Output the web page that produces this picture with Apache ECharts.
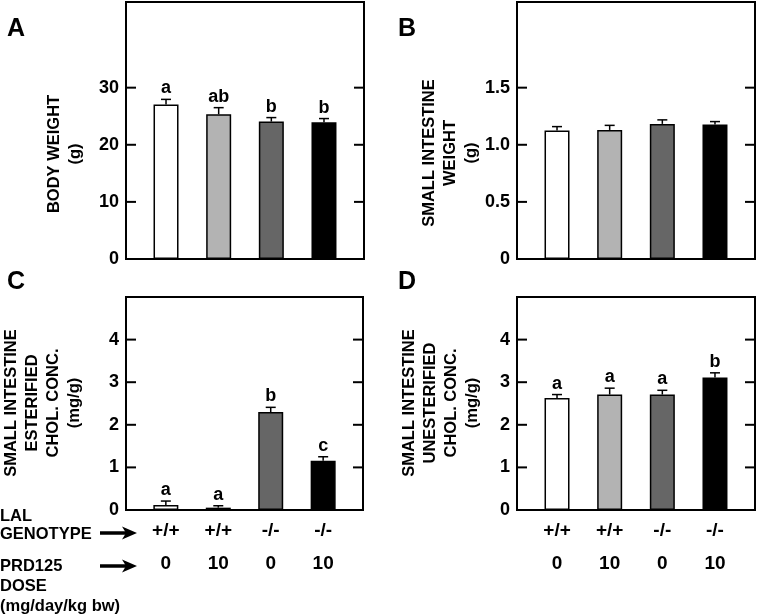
<!DOCTYPE html>
<html>
<head>
<meta charset="utf-8">
<script src="https://cdn.jsdelivr.net/npm/echarts@6/dist/echarts.min.js"></script>
<style>
  html, body { margin: 0; padding: 0; background: #fff; }
  #chart { width: 758px; height: 616px; }
</style>
</head>
<body>
<div id="chart"></div>
<script>
// groups (x positions 1..4)
const genotype = ['+/+', '+/+', '-/-', '-/-'];
const dose = ['0', '10', '0', '10'];
const barColors = ['#ffffff', '#b3b3b3', '#666666', '#000000'];

// panel A - body weight (g)
const bodyWeight = [27.05, 25.35, 24.06, 23.94];
const bodyWeightSem = [0.9, 1.15, 0.7, 0.65];
const bodyWeightLetters = ['a', 'ab', 'b', 'b'];
const bodyWeightTicks = [0, 10, 20, 30];

// panel B - small intestine weight (g)
const siWeight = [1.124, 1.13, 1.183, 1.177];
const siWeightSem = [0.035, 0.04, 0.035, 0.026];
const siWeightLetters = ['', '', '', ''];
const siWeightTicks = [0, 0.5, 1.0, 1.5];

// panel C - esterified cholesterol (mg/g)
const esterified = [0.12, 0.055, 2.30, 1.155];
const esterifiedSem = [0.09, 0.045, 0.11, 0.095];
const esterifiedLetters = ['a', 'a', 'b', 'c'];

// panel D - unesterified cholesterol (mg/g)
const unesterified = [2.63, 2.71, 2.71, 3.11];
const unesterifiedSem = [0.08, 0.15, 0.10, 0.11];
const unesterifiedLetters = ['a', 'a', 'a', 'b'];
const cholTicks = [0, 1, 2, 3, 4];

const FONT = '"Liberation Sans", Arial, sans-serif';
const X_MIN = 0.24, X_MAX = 4.76;

const panels = [
  { values: bodyWeight, sem: bodyWeightSem, letters: bodyWeightLetters, ticks: bodyWeightTicks, max: 45,
    grid: { left: 126, top: 2, width: 238, height: 257 }, fmt: v => String(v), xLabels: false },
  { values: siWeight, sem: siWeightSem, letters: siWeightLetters, ticks: siWeightTicks, max: 2.25,
    grid: { left: 517, top: 2, width: 238, height: 257 }, fmt: v => v === 0 ? '0' : v.toFixed(1), xLabels: false },
  { values: esterified, sem: esterifiedSem, letters: esterifiedLetters, ticks: cholTicks, max: 5,
    grid: { left: 126, top: 297, width: 237, height: 213 }, fmt: v => String(v), xLabels: true },
  { values: unesterified, sem: unesterifiedSem, letters: unesterifiedLetters, ticks: cholTicks, max: 5,
    grid: { left: 517, top: 297, width: 238, height: 213 }, fmt: v => String(v), xLabels: true }
];

const grids = [], xAxes = [], yAxes = [], series = [];

panels.forEach((p, i) => {
  grids.push(Object.assign({ show: true, borderColor: '#000', borderWidth: 2, backgroundColor: 'transparent' }, p.grid));

  xAxes.push({
    type: 'value', gridIndex: i, min: X_MIN, max: X_MAX,
    axisLine: { show: false }, axisTick: { show: false }, splitLine: { show: false },
    axisLabel: p.xLabels ? {
      show: true, customValues: [1, 2, 3, 4], margin: 4,
      formatter: v => genotype[v - 1] + '\n' + dose[v - 1],
      fontFamily: FONT, fontWeight: 'bold', fontSize: 19, color: '#000', lineHeight: 33
    } : { show: false }
  });

  yAxes.push({
    type: 'value', gridIndex: i, min: 0, max: p.max,
    axisLine: { show: false }, splitLine: { show: false }, axisTick: { show: false },
    axisLabel: {
      show: true, customValues: p.ticks, formatter: p.fmt, margin: 7,
      fontFamily: FONT, fontWeight: 'bold', fontSize: 18, color: '#000'
    }
  });

  // inward tick marks on the left and right frame edges
  const inner = p.ticks.filter(t => t > 0);
  series.push({
    type: 'scatter', xAxisIndex: i, yAxisIndex: i, z: 10, silent: true,
    symbol: 'rect', symbolSize: [10, 2], symbolOffset: [5, 0],
    itemStyle: { color: '#000', opacity: 1 },
    data: inner.map(t => [X_MIN, t])
  });
  series.push({
    type: 'scatter', xAxisIndex: i, yAxisIndex: i, z: 10, silent: true,
    symbol: 'rect', symbolSize: [10, 2], symbolOffset: [-5, 0],
    itemStyle: { color: '#000', opacity: 1 },
    data: inner.map(t => [X_MAX, t])
  });

  series.push({
    type: 'bar', xAxisIndex: i, yAxisIndex: i, barWidth: 25, silent: true,
    data: p.values.map((v, k) => ({
      value: [k + 1, v],
      itemStyle: { color: barColors[k], borderColor: '#000', borderWidth: 1.5 }
    }))
  });

  series.push({
    type: 'custom', xAxisIndex: i, yAxisIndex: i, z: 5, silent: true,
    data: p.values.map((v, k) => [k + 1, v, v + p.sem[k]]),
    renderItem: (params, api) => {
      const base = api.coord([api.value(0), api.value(1)]);
      const top = api.coord([api.value(0), api.value(2)]);
      const letter = p.letters[params.dataIndex];
      const style = { stroke: '#000', lineWidth: 1.5 };
      return {
        type: 'group',
        children: [
          { type: 'line', shape: { x1: base[0], y1: base[1], x2: top[0], y2: top[1] }, style: style },
          { type: 'line', shape: { x1: top[0] - 5, y1: top[1], x2: top[0] + 5, y2: top[1] }, style: style },
          { type: 'text', x: top[0], y: top[1] - 2,
            style: { text: letter, align: 'center', verticalAlign: 'bottom',
                     font: 'bold 18px ' + FONT, fill: '#000' } }
        ]
      };
    }
  });
});

const txt = (text, x, y, opts) => ({
  type: 'text', x: x, y: y,
  style: Object.assign({ text: text, font: 'bold 16.5px ' + FONT, fill: '#000', align: 'center', verticalAlign: 'middle' }, opts || {})
});

const yTitle = (text, x, y) => ({
  type: 'text', x: x, y: y, rotation: Math.PI / 2,
  style: { text: text, font: 'bold 16.5px ' + FONT, fill: '#000', align: 'center', verticalAlign: 'middle', lineHeight: 21 }
});

const arrow = (y) => ({
  type: 'group',
  children: [
    { type: 'line', shape: { x1: 100, y1: y, x2: 127, y2: y }, style: { stroke: '#000', lineWidth: 3.5 } },
    { type: 'polygon', shape: { points: [[122, y - 6.5], [137, y], [122, y + 6.5], [126, y]] }, style: { fill: '#000' } }
  ]
});

const graphic = [
  txt('A', 16, 29, { font: 'bold 25px ' + FONT }),
  txt('B', 407, 29, { font: 'bold 25px ' + FONT }),
  txt('C', 16, 282, { font: 'bold 25px ' + FONT }),
  txt('D', 407, 282, { font: 'bold 25px ' + FONT }),
  yTitle('BODY WEIGHT\n(g)', 64.5, 154),
  yTitle('SMALL INTESTINE\nWEIGHT\n(g)', 450.5, 153),
  yTitle('SMALL INTESTINE\nESTERIFIED\nCHOL. CONC.\n(mg/g)', 43, 403),
  yTitle('SMALL INTESTINE\nUNESTERIFIED\nCHOL. CONC.\n(mg/g)', 441, 403),
  txt('LAL', 0, 516, { align: 'left' }),
  txt('GENOTYPE', 0, 534, { align: 'left' }),
  txt('PRD125', 0, 566, { align: 'left' }),
  txt('DOSE', 0, 586, { align: 'left' }),
  txt('(mg/day/kg bw)', 0, 606, { align: 'left' }),
  arrow(533),
  arrow(566)
];

const chart = echarts.init(document.getElementById('chart'), null, { renderer: 'canvas' });
chart.setOption({
  animation: false,
  backgroundColor: '#fff',
  grid: grids,
  xAxis: xAxes,
  yAxis: yAxes,
  series: series,
  graphic: graphic
});
</script>
</body>
</html>
